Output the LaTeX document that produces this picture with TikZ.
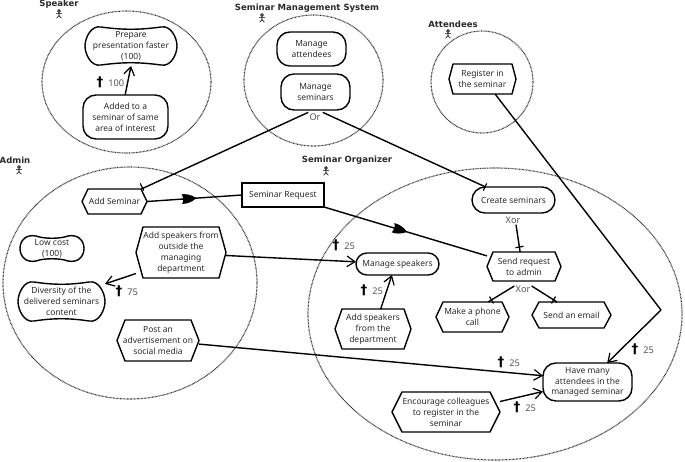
\documentclass[tikz,border=0pt]{standalone}
\usepackage{fontspec}
\setmainfont{Noto Sans}
\newfontfamily\headfont{DejaVu Sans Bold}
\usetikzlibrary{arrows.meta,calc,decorations.markings}
\definecolor{txt}{HTML}{2A2A2A}
\definecolor{num}{HTML}{555555}
\tikzset{
  x=0.75pt,y=-0.75pt,
  outline/.style={draw=black,line width=1.05pt,line join=round},
  label/.style={font=\fontsize{6.35}{8.2}\selectfont,text=txt,align=center,inner sep=0pt,outer sep=0pt},
  actorname/.style={font=\fontsize{6.4}{8}\headfont\selectfont,text=txt,inner sep=0pt},
  boundary/.style={draw=black!80,line width=0.85pt,dash pattern=on 0.55pt off 0.5pt},
  link/.style={draw=black,line width=1.05pt},
  contrib/.style={link,-{Straight Barb[length=6pt,width=8pt,line width=0.9pt]}},
  refine/.style={font=\fontsize{6.9}{8}\selectfont,text=num,inner sep=0pt},
  markplus/.style={font=\fontsize{10}{10}\headfont\selectfont,text=black,inner sep=0pt},
  marknum/.style={font=\fontsize{6.9}{8}\selectfont,text=num,inner sep=0pt},
  bar/.style={link,line width=0.9pt},
  dep/.style={link,postaction={decorate},decoration={markings,mark=at position #1 with {
     \fill[black] (-6pt,-3.6pt) .. controls (-3pt,-3.8pt) and (1pt,-3.2pt) .. (5pt,0pt)
       .. controls (1pt,3.2pt) and (-3pt,3.8pt) .. (-6pt,3.6pt)
       .. controls (-4.5pt,1.5pt) and (-4.5pt,-1.5pt) .. (-6pt,-3.6pt) -- cycle;}}},
}
\newcommand{\hexa}[7][6]{%
  \draw[outline,fill=white] (#3,{(#4+#6)/2}) -- (#3+#1,#4) -- (#5-#1,#4) -- (#5,{(#4+#6)/2}) -- (#5-#1,#6) -- (#3+#1,#6) -- cycle;
  \node[label,minimum width={(#5-#3)*0.75pt},minimum height={(#6-#4)*0.75pt}] (#2) at ({(#3+#5)/2},{(#4+#6)/2}) {#7};}
\newcommand{\goal}[7][13]{%
  \draw[outline,fill=white,rounded corners=#1*0.75pt] (#3,#4) rectangle (#5,#6);
  \node[label,minimum width={(#5-#3)*0.75pt},minimum height={(#6-#4)*0.75pt}] (#2) at ({(#3+#5)/2},{(#4+#6)/2}) {#7};}
\newcommand{\soft}[6]{%
  \draw[outline,fill=white] (#2+16,#3+1) .. controls ({(#2+#4)/2-8},#3+4) and ({(#2+#4)/2+8},#3+4) .. (#4-16,#3+1)
    .. controls (#4-6,#3-1) and (#4,{(#3+#5)/2-8}) .. (#4,{(#3+#5)/2})
    .. controls (#4,{(#3+#5)/2+8}) and (#4-6,#5+1) .. (#4-16,#5-1)
    .. controls ({(#2+#4)/2+8},#5-4) and ({(#2+#4)/2-8},#5-4) .. (#2+16,#5-1)
    .. controls (#2+6,#5+1) and (#2,{(#3+#5)/2+8}) .. (#2,{(#3+#5)/2})
    .. controls (#2,{(#3+#5)/2-8}) and (#2+6,#3-1) .. (#2+16,#3+1) -- cycle;
  \node[label,minimum width={(#4-#2)*0.75pt},minimum height={(#5-#3)*0.75pt}] (#1) at ({(#2+#4)/2},{(#3+#5)/2}) {#6};}
\newcommand{\actor}[3]{%
  \node[actorname] (#1) at (#2) {#3};}
\newcommand{\stick}[2]{%
  \begin{scope}[shift={(#1,#2)},line width=0.45pt,black]
    \draw (0,-3) circle[radius=1.4];
    \draw (0,-1.6) -- (0,1.6) (-2.8,-0.4) -- (2.8,-0.4) (0,1.6) -- (-2.4,4.2) (0,1.6) -- (2.4,4.2);
  \end{scope}}
\newcommand{\barat}[4]{%
  \draw[bar] (#1-#3,#2-#4) -- (#1+#3,#2+#4);}
\newcommand{\strength}[4]{%
  \node[markplus] (#1a) at (#2,#3) {†};
  \node[marknum,anchor=west] (#1b) at (#2+8,#3+1) {#4};}
\begin{document}
\begin{tikzpicture}
\useasboundingbox (0,0) rectangle (685,461);
\fill[white] (0,0) rectangle (685,461);
\draw[boundary] (126.5,82) ellipse[x radius=84.5,y radius=71];
\draw[boundary] (313.5,80.5) ellipse[x radius=69.5,y radius=65.5];
\draw[boundary] (482,82) ellipse[x radius=51,y radius=51];
\draw[boundary] (130,283) ellipse[x radius=127,y radius=116];
\draw[boundary] (495,314) ellipse[x radius=187,y radius=146];
\actor{aSpeaker}{59,4}{Speaker}
\stick{59}{14}
\actor{aSMS}{307,8}{Seminar Management System}
\stick{262}{18}
\actor{aAtt}{453,24}{Attendees}
\stick{448}{34}
\actor{aAdmin}{15,160}{Admin}
\stick{19}{170}
\actor{aOrg}{347,160}{Seminar Organizer}
\stick{326}{171}
\soft{prep}{85}{26}{177}{66}{Prepare\\presentation faster\\(100)}
\goal{added}{83}{95}{168}{139}{Added to a\\seminar of same\\area of interest}
\goal{mattend}{277}{32}{346}{66}{Manage\\attendees}
\goal{msem}{281}{74}{350}{110}{Manage\\seminars}
\hexa[4]{reg}{449}{64}{516}{94}{Register in\\the seminar}
\hexa[6]{addsem}{82}{189}{147}{214}{Add Seminar}
\node[label,draw=black,line width=1.05pt,fill=white,minimum width=61.5pt,minimum height=18pt] (req) at (283,195) {Seminar Request};
\hexa[7]{outside}{136}{227}{226}{278}{Add speakers from\\outside the\\managing\\department}
\soft{low}{20}{235}{84}{262}{Low cost\\(100)}
\soft{div}{18}{281}{105}{322}{Diversity of the\\delivered seminars\\content}
\hexa[8]{post}{117}{320}{199}{361}{Post an\\advertisement on\\social media}
\goal[11]{mspeak}{356}{253}{439}{275}{Manage speakers}
\hexa[7]{dept}{335}{309}{411}{349}{Add speakers\\from the\\department}
\goal[13]{create}{472}{187}{555}{213}{Create seminars}
\hexa[6]{send}{487}{252}{561}{281}{Send request\\to admin}
\hexa[7]{phone}{436}{302}{509}{332}{Make a phone\\call}
\hexa[7]{email}{532}{302}{611}{328}{Send an email}
\goal[13]{have}{543}{363}{632}{401}{Have many\\attendees in the\\managed seminar}
\hexa[10]{enc}{392}{392}{500}{432}{Encourage colleagues\\to register in the\\seminar}
\node[refine] (orhub) at (315,117) {Or};
\node[refine] (xor1) at (513,220) {Xor};
\node[refine] (xor2) at (523,289) {Xor};
\coordinate (kink) at (661,310);
\draw[link] (orhub.north west) ++(-1,-1) coordinate (or1) -- (addsem.25);
\draw[link] (orhub.north east) ++(2,-1) coordinate (or2) -- (create.155);
\draw[link] (xor1.south) ++(3,1) coordinate (x1) -- (send.105);
\draw[link] (xor2.west) ++(-1,-3) coordinate (x2) -- (phone.44);
\draw[link] (xor2.east) ++(1,-3) coordinate (x3) -- (email.138);
\barat{142}{187}{1.7}{3.6}
\barat{485}{187}{-1.7}{3.6}
\barat{519.5}{247}{4}{-0.7}
\barat{491.5}{300}{-2}{-3.4}
\barat{553.5}{300}{2}{-3.4}
\draw[dep=0.45] (addsem.east) -- (req.west);
\draw[dep=0.47] (req.south east) -- (send.164);
\draw[contrib] (added.91) -- (prep.south);
\draw[contrib] (outside.east) ++(0,3) -- (mspeak.177);
\draw[contrib] (outside.205) -- (div.22);
\draw[contrib] (dept.69) -- (mspeak.243);
\draw[contrib] (post.-5) -- (have.172);
\draw[contrib] (enc.11.5) -- (have.192.7);
\draw[link] (reg.-50) -- (kink);
\draw[contrib] (kink) -- (have.44);
\strength{s1}{100}{82}{100}
\strength{s2}{119}{291}{75}
\strength{s3}{336}{245}{25}
\strength{s4}{364}{290}{25}
\strength{s5}{501}{362}{25}
\strength{s6}{517}{407}{25}
\strength{s7}{635}{349}{25}
\end{tikzpicture}
\end{document}
